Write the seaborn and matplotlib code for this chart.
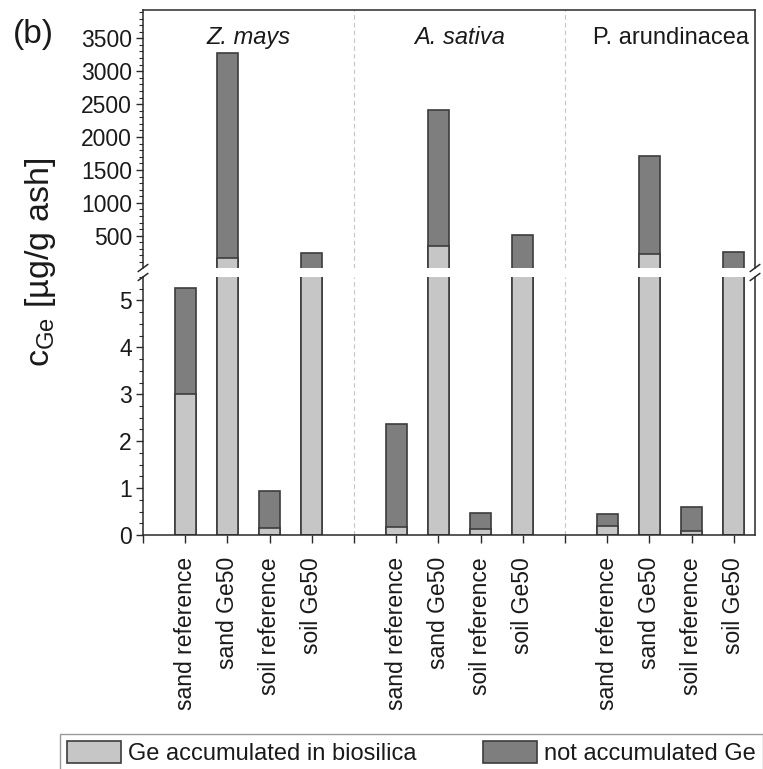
import pandas as pd
import numpy as np
import matplotlib.pyplot as plt
import seaborn as sns
from matplotlib.patches import Patch
from matplotlib.ticker import MultipleLocator
from matplotlib.transforms import blended_transform_factory

# --- data ---
species = ['Z. mays', 'A. sativa', 'P. arundinacea']
species_italic = [True, True, False]
treatments = ['sand reference', 'sand Ge50', 'soil reference', 'soil Ge50']

# Ge accumulated in biosilica (light part)
zm_biosilica = [3.0, 155, 0.15, 8]
as_biosilica = [0.17, 345, 0.13, 9]
pa_biosilica = [0.20, 220, 0.08, 8]

# not accumulated Ge (dark part, stacked on top)
zm_not_acc = [2.26, 3115, 0.79, 232]
as_not_acc = [2.20, 2065, 0.33, 501]
pa_not_acc = [0.25, 1490, 0.52, 247]

LIGHT = '#c6c6c6'
DARK = '#7e7e7e'
EDGE = '#3c3c3c'
AXIS = '#2a2a2a'

BREAK_LOW, BREAK_HIGH = 5.5, 10

sns.set_style('ticks')
plt.rcParams['font.family'] = ['Liberation Sans', 'DejaVu Sans']
plt.rcParams['mathtext.fontset'] = 'custom'
plt.rcParams['mathtext.rm'] = 'Liberation Sans'
plt.rcParams['text.color'] = '#1a1a1a'
plt.rcParams['xtick.color'] = AXIS
plt.rcParams['ytick.color'] = AXIS
plt.rcParams['xtick.labelcolor'] = '#1a1a1a'
plt.rcParams['ytick.labelcolor'] = '#1a1a1a'

# one group of four bars per species, gap of one slot between groups
rows = []
for g, (bio, nacc) in enumerate([(zm_biosilica, zm_not_acc),
                                  (as_biosilica, as_not_acc),
                                  (pa_biosilica, pa_not_acc)]):
    for i, t in enumerate(treatments):
        rows.append({'species': species[g], 'treatment': t,
                     'pos': g * 5 + i + 1,
                     'biosilica': bio[i], 'total': bio[i] + nacc[i]})
df = pd.DataFrame(rows)

fig = plt.figure(figsize=(7.63, 7.69), dpi=100)
L, R = 143 / 763, 755 / 763
ax_top = fig.add_axes([L, 1 - 268 / 769, R - L, 258 / 769])
ax_bot = fig.add_axes([L, 1 - 535 / 769, R - L, 258 / 769])

for ax in (ax_top, ax_bot):
    sns.barplot(data=df, x='pos', y='total', native_scale=True, orient='x',
                width=0.5, color=DARK, saturation=1, edgecolor=EDGE,
                linewidth=1.2, errorbar=None, ax=ax)
    sns.barplot(data=df, x='pos', y='biosilica', native_scale=True, orient='x',
                width=0.5, color=LIGHT, saturation=1, edgecolor=EDGE,
                linewidth=1.2, errorbar=None, ax=ax)
    for sep in (5, 10):
        ax.axvline(sep, color='#c4c4c4', lw=0.8, ls=(0, (4, 3)), zorder=0)
    ax.set_xlim(0, 14.5)
    ax.set_xlabel('')
    ax.set_ylabel('')
    for s in ax.spines.values():
        s.set_color(AXIS)
        s.set_linewidth(1.1)
    ax.tick_params(axis='y', which='major', length=5, width=1.0, direction='out',
                   labelsize=16.5, pad=3)
    ax.tick_params(axis='y', which='minor', length=3, width=0.8, direction='out')
    ax.tick_params(right=False, top=False)

# bars that stay below the break are not shown in the upper segment
for p in ax_top.patches:
    if p.get_height() < BREAK_HIGH:
        p.set_visible(False)

# upper segment
ax_top.set_ylim(BREAK_HIGH, 3930)
ax_top.set_yticks([500, 1000, 1500, 2000, 2500, 3000, 3500])
ax_top.yaxis.set_minor_locator(MultipleLocator(100))
ax_top.spines['bottom'].set_visible(False)
ax_top.tick_params(axis='x', which='both', bottom=False, labelbottom=False)

# lower segment
ax_bot.set_ylim(0, BREAK_LOW)
ax_bot.set_yticks([0, 1, 2, 3, 4, 5])
ax_bot.yaxis.set_minor_locator(MultipleLocator(0.25))
ax_bot.spines['top'].set_visible(False)
tick_pos = list(range(0, 15))
tick_lab = []
for p in tick_pos:
    hit = df.loc[df['pos'] == p, 'treatment']
    tick_lab.append(hit.iloc[0] if len(hit) else '')
ax_bot.set_xticks(tick_pos)
ax_bot.set_xticklabels(tick_lab, rotation=90, fontsize=16.5)
ax_bot.tick_params(axis='x', length=6, width=1.0, direction='out', pad=10)

# species names at the top of each group
trans = blended_transform_factory(ax_top.transData, ax_top.transAxes)
for g, name in enumerate(species):
    ax_top.text(g * 5 + 2.5, 0.893, name, transform=trans, ha='center', va='center',
                fontsize=17, style='italic' if species_italic[g] else 'normal')

# axis break marks
d, h = 0.008, 0.014
for ax, y0 in ((ax_top, 0.0), (ax_bot, 1.0)):
    for x0 in (0.0, 1.0):
        ax.plot([x0 - d, x0 + d], [y0 - h, y0 + h], transform=ax.transAxes,
                color=AXIS, lw=1.1, clip_on=False)

fig.text(0.053, 1 - 262 / 769, r'c$_{\mathrm{Ge}}$ [µg/g ash]', rotation=90,
         ha='center', va='center', fontsize=24.5)
fig.text(13 / 763, 1 - 19 / 769, '(b)', ha='left', va='top', fontsize=24)

handles = [Patch(facecolor=LIGHT, edgecolor=EDGE, linewidth=1.2),
           Patch(facecolor=DARK, edgecolor=EDGE, linewidth=1.2)]
leg = fig.legend(handles, ['Ge accumulated in biosilica', 'not accumulated Ge'],
                 loc='lower left', bbox_to_anchor=(60 / 763, -0.004, 703 / 763, 0.05),
                 mode='expand', ncol=2, fontsize=17, frameon=True, fancybox=False,
                 borderpad=0.3, handlelength=2.3, handleheight=1.1,
                 handletextpad=0.3, borderaxespad=0.0)
leg.get_frame().set_edgecolor('#808080')
leg.get_frame().set_linewidth(1.0)

fig.savefig('out.png', dpi=100)
